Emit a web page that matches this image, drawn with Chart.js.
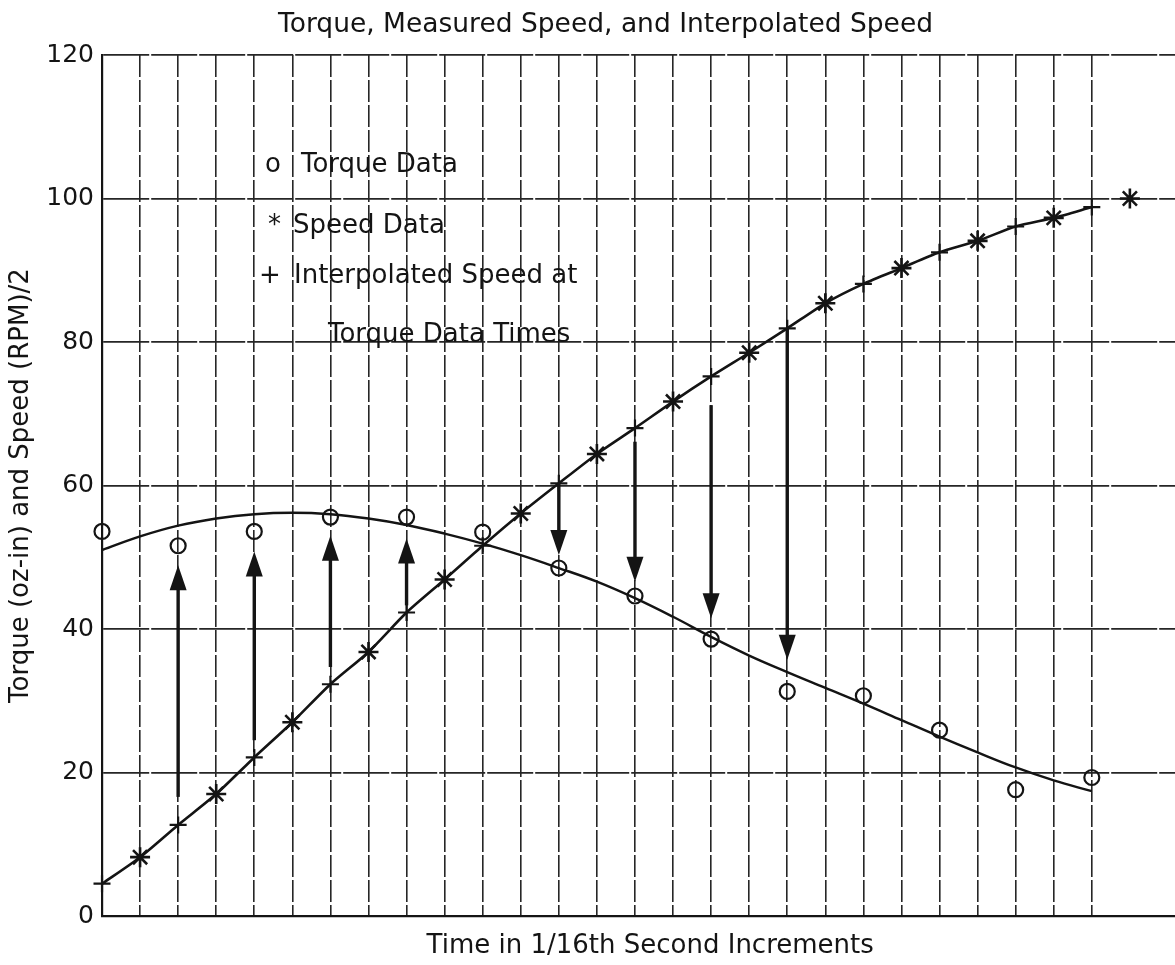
<!DOCTYPE html>
<html>
<head>
<meta charset="utf-8">
<title>Torque, Measured Speed, and Interpolated Speed</title>
<script src="https://cdn.jsdelivr.net/npm/chart.js@4.4.1/dist/chart.umd.min.js"></script>
<style>
  html, body { margin: 0; padding: 0; background: #ffffff; overflow: hidden; }
  #wrap { position: absolute; left: 0; top: 0; width: 1211px; height: 965px; }
</style>
</head>
<body>
<div id="wrap"><canvas id="chart"></canvas></div>
<script>
// Time steps (1/16 s increments) and readings
const fitTimes = [0,1,2,3,4,5,6,7,8,9,10,11,12,13,14,15,16,17,18,19,20,21,22,23,24,25,26];
const torqueFit = [51.0,52.9,54.4,55.4,56.0,56.2,56.0,55.4,54.5,53.3,51.9,50.3,48.5,46.6,44.3,41.7,38.9,36.3,34.0,31.8,29.6,27.3,25.0,22.8,20.7,18.9,17.4];

const torqueTimes = [0,2,4,6,8,10,12,14,16,18,20,22,24,26];
const torqueData  = [53.6,51.6,53.6,55.6,55.6,53.5,48.5,44.6,38.6,31.3,30.7,25.9,17.6,19.3];

const speedTimes = [1,3,5,7,9,11,13,15,17,19,21,23,25,27];
const speedData  = [8.2,17.0,27.0,36.8,46.9,56.1,64.4,71.7,78.5,85.4,90.3,94.1,97.3,100.0];

// interpolated speed at the torque sample times
const interpSpeed = [4.5,12.7,22.1,32.3,42.3,51.6,60.3,68.0,75.2,81.9,88.1,92.5,96.1,98.8];

// arrows from interpolated speed toward the torque reading
const arrowTimes = [2,4,6,8,12,14,16,18];
const arrowFrom  = [16.6,24.5,34.7,43.3,60.3,66.1,71.2,81.9];
const arrowTo    = [48.9,50.8,53.0,52.6,50.3,46.6,41.5,35.7];

const yTicks = [0,20,40,60,80,100,120];
const lastGridTime = 26;

const INK = '#141414';
const GRID = '#262626';
const FONT = 'DejaVu Sans';

const pts = (xs, ys) => xs.map((x, i) => ({ x: x, y: ys[i] }));

// speed curve passes through measured and interpolated points
const speedCurve = pts(speedTimes, speedData).concat(pts(torqueTimes, interpSpeed))
  .filter(p => p.x <= lastGridTime)
  .sort((a, b) => a.x - b.x);

const arrowPlugin = {
  id: 'arrows',
  afterDatasetsDraw(chart) {
    const { ctx, scales: { x, y } } = chart;
    ctx.save();
    ctx.strokeStyle = INK;
    ctx.fillStyle = INK;
    ctx.lineWidth = 3.4;
    arrowTimes.forEach((t, i) => {
      const px = x.getPixelForValue(t);
      const y0 = y.getPixelForValue(arrowFrom[i]);
      const y1 = y.getPixelForValue(arrowTo[i]);
      const dir = y1 < y0 ? -1 : 1;
      const headLen = 25, headHalf = 8.5;
      const base = y1 - dir * headLen;
      ctx.beginPath();
      ctx.moveTo(px, y0);
      ctx.lineTo(px, base + dir * 2);
      ctx.stroke();
      ctx.beginPath();
      ctx.moveTo(px, y1);
      ctx.lineTo(px - headHalf, base);
      ctx.lineTo(px + headHalf, base);
      ctx.closePath();
      ctx.fill();
    });
    ctx.restore();
  }
};

const keyPlugin = {
  id: 'keyText',
  afterDatasetsDraw(chart) {
    const { ctx, chartArea: a } = chart;
    const L = a.left, T = a.top;
    ctx.save();
    ctx.fillStyle = INK;
    ctx.font = '26px "' + FONT + '"';
    ctx.textAlign = 'left';
    ctx.textBaseline = 'alphabetic';
    ctx.fillText('o', L + 163, T + 117);
    ctx.fillText('Torque Data', L + 199, T + 117);
    ctx.fillText('*', L + 166, T + 178);
    ctx.fillText('Speed Data', L + 191, T + 178);
    ctx.fillText('+', L + 157, T + 228);
    ctx.fillText('Interpolated Speed at', L + 192, T + 228);
    ctx.fillText('Torque Data Times', L + 226, T + 287);
    ctx.restore();
  }
};

new Chart(document.getElementById('chart'), {
  type: 'line',
  data: {
    datasets: [
      {
        label: 'Torque fit',
        data: pts(fitTimes, torqueFit),
        borderColor: INK, borderWidth: 2.4,
        pointRadius: 0, tension: 0.4, fill: false
      },
      {
        label: 'Speed',
        data: speedCurve,
        borderColor: INK, borderWidth: 2.6,
        pointRadius: 0, tension: 0.25, fill: false
      },
      {
        label: 'Torque Data',
        data: pts(torqueTimes, torqueData),
        showLine: false, clip: false,
        pointStyle: 'circle', pointRadius: 7.5, pointBorderWidth: 2.2,
        pointBorderColor: INK, pointBackgroundColor: 'rgba(0,0,0,0)'
      },
      {
        label: 'Speed Data',
        data: pts(speedTimes, speedData),
        showLine: false, clip: false,
        pointStyle: 'star', pointRadius: 10, pointBorderWidth: 2.6,
        pointBorderColor: INK, pointBackgroundColor: INK
      },
      {
        label: 'Interpolated Speed',
        data: pts(torqueTimes, interpSpeed),
        showLine: false, clip: false,
        pointStyle: 'cross', pointRadius: 8.5, pointBorderWidth: 2.2,
        pointBorderColor: INK, pointBackgroundColor: INK
      }
    ]
  },
  options: {
    responsive: true,
    maintainAspectRatio: false,
    animation: false,
    events: [],
    layout: { padding: 0 },
    plugins: {
      legend: { display: false },
      tooltip: { enabled: false },
      title: {
        display: true,
        text: 'Torque, Measured Speed, and Interpolated Speed',
        color: INK,
        font: { family: FONT, size: 26.5, weight: 'normal' },
        padding: { top: 9, bottom: 14.2 }
      }
    },
    scales: {
      x: {
        type: 'linear',
        min: 0, max: 28.8,
        ticks: { display: false, stepSize: 1 },
        grid: {
          drawTicks: false,
          lineWidth: 1.6,
          color: c => (c.tick && c.tick.value <= lastGridTime) ? GRID : 'rgba(0,0,0,0)',
          borderDash: [22, 3]
        },
        border: { display: true, color: INK, width: 2.2, dash: [22, 3] },
        title: {
          display: true,
          text: 'Time in 1/16th Second Increments',
          color: INK,
          font: { family: FONT, size: 26, weight: 'normal' },
          padding: { top: 0, bottom: 3 }
        },
        afterFit: s => { s.height = 49; }
      },
      y: {
        type: 'linear',
        min: 0, max: 120,
        afterBuildTicks: s => { s.ticks = yTicks.map(v => ({ value: v })); },
        ticks: {
          color: INK,
          padding: 8,
          font: { family: FONT, size: 25 }
        },
        grid: { drawTicks: false, lineWidth: 1.8, color: GRID, borderDash: [46, 2] },
        border: { display: true, color: INK, width: 2.2, dash: [46, 2] },
        title: {
          display: true,
          text: 'Torque (oz-in) and Speed (RPM)/2',
          color: INK,
          font: { family: FONT, size: 26, weight: 'normal' },
          padding: { top: 6, bottom: 0 }
        },
        afterFit: s => { s.width = 102; }
      }
    }
  },
  plugins: [arrowPlugin, keyPlugin]
});
</script>
</body>
</html>
